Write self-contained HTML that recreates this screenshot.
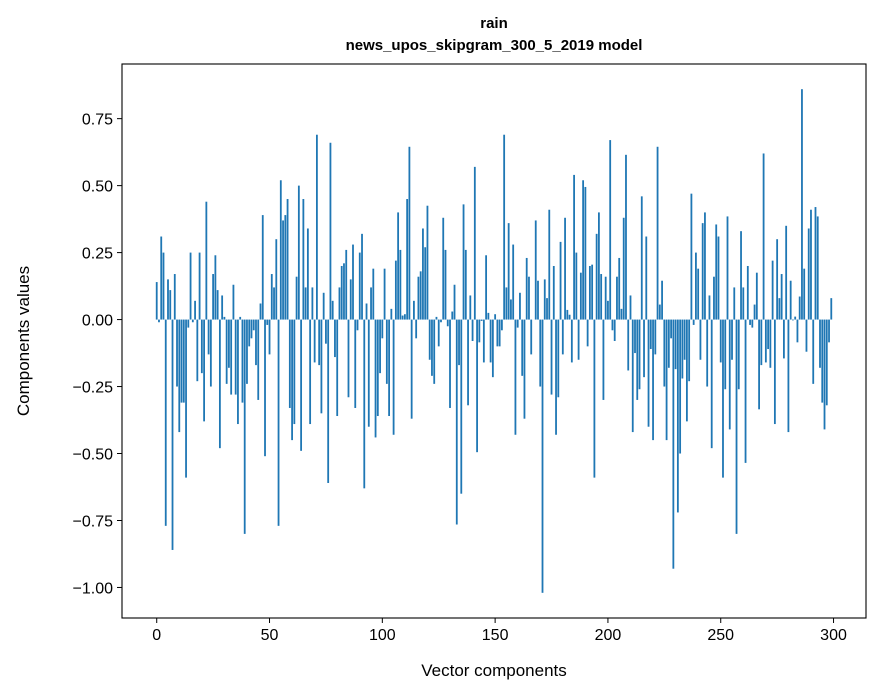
<!DOCTYPE html>
<html><head><meta charset="utf-8"><style>
body{margin:0;background:#fff;}
svg{display:block;font-family:"Liberation Sans",Arial,sans-serif;}
</style></head><body>
<svg id="chart" width="880" height="696">
<text x="494" y="28" text-anchor="middle" font-size="15" font-weight="bold">rain</text>
<text x="494" y="50" text-anchor="middle" font-size="15" font-weight="bold">news_upos_skipgram_300_5_2019 model</text>
<g id="bars"></g>
<g id="axes"></g>
<text x="494" y="676" text-anchor="middle" font-size="17">Vector components</text>
<text transform="translate(29,341) rotate(-90)" text-anchor="middle" font-size="17">Components values</text>
</svg>
<script>
const values = [0.14,-0.01,0.31,0.25,-0.77,0.15,0.11,-0.86,0.17,-0.25,
-0.42,-0.31,-0.31,-0.59,-0.03,0.25,-0.01,0.07,-0.23,0.25,
-0.20,-0.38,0.44,-0.13,-0.25,0.17,0.24,0.11,-0.48,0.09,
0.01,-0.24,-0.18,-0.28,0.13,-0.28,-0.39,0.01,-0.31,-0.80,
-0.24,-0.10,-0.07,-0.04,-0.17,-0.30,0.06,0.39,-0.51,-0.02,
-0.13,0.17,0.12,0.30,-0.77,0.52,0.37,0.39,0.45,-0.33,
-0.45,-0.39,0.16,0.50,-0.49,0.45,0.12,0.34,-0.39,0.12,
-0.16,0.69,-0.17,-0.35,0.10,-0.09,-0.61,0.66,0.07,-0.14,
-0.36,0.12,0.20,0.21,0.26,-0.29,0.15,0.28,-0.33,-0.04,
0.25,0.32,-0.63,0.06,-0.40,0.12,0.19,-0.44,-0.36,-0.20,
-0.07,0.19,-0.24,-0.36,0.04,-0.43,0.22,0.40,0.26,0.015,
0.02,0.45,0.645,-0.37,0.07,-0.07,0.16,0.18,0.34,0.27,
0.425,-0.15,-0.21,-0.24,0.01,-0.10,-0.01,0.38,0.26,-0.025,
-0.33,0.03,0.13,-0.765,-0.17,-0.65,0.43,0.26,-0.32,0.09,
-0.08,0.57,-0.495,-0.085,-0.005,-0.16,0.24,0.025,-0.16,-0.215,
0.02,-0.10,-0.10,-0.04,0.69,0.12,0.36,0.075,0.28,-0.43,
-0.03,0.10,-0.21,-0.37,0.23,0.16,-0.13,0.0,0.37,0.145,
-0.25,-1.02,0.15,0.08,0.41,-0.28,0.20,-0.43,-0.29,0.29,
-0.13,0.38,0.036,0.018,-0.16,0.54,0.25,-0.15,0.175,0.52,
0.495,-0.10,0.20,0.205,-0.59,0.32,0.40,0.17,-0.30,0.16,
0.07,0.67,-0.04,-0.08,0.16,0.23,0.04,0.38,0.615,-0.19,
0.09,-0.42,-0.125,-0.30,-0.26,0.46,-0.215,0.31,-0.40,-0.11,
-0.45,-0.13,0.645,0.056,0.145,-0.25,-0.45,-0.18,-0.07,-0.93,
-0.185,-0.72,-0.50,-0.22,-0.15,-0.38,-0.23,0.47,-0.02,0.25,
0.19,-0.15,0.36,0.40,-0.25,0.09,-0.48,0.16,0.355,0.31,
-0.16,-0.59,-0.26,0.385,-0.41,-0.15,0.12,-0.80,-0.26,0.33,
0.12,-0.535,0.20,-0.02,-0.03,0.056,0.175,-0.335,-0.17,0.62,
-0.16,-0.11,-0.18,0.22,-0.39,0.30,0.08,0.17,-0.145,0.35,
-0.42,0.145,-0.003,0.011,-0.085,0.086,0.86,0.19,-0.12,0.34,
0.41,-0.24,0.42,0.385,-0.18,-0.31,-0.41,-0.32,-0.085,0.08];
const xTicks = [0,50,100,150,200,250,300];
const yTicks = [0.75,0.50,0.25,0.00,-0.25,-0.50,-0.75,-1.00];
const yTickLabels = ["0.75","0.50","0.25","0.00","\u22120.25","\u22120.50","\u22120.75","\u22121.00"];

const L=122,R=866,T=64,B=618;
const n=values.length;
const xmin0=-0.4,xmax0=n-1+0.4, xpad=(xmax0-xmin0)*0.05;
const xMin=xmin0-xpad,xMax=xmax0+xpad;
let dmin=Math.min(0,...values),dmax=Math.max(0,...values),ypad=(dmax-dmin)*0.05;
const yMin=dmin-ypad,yMax=dmax+ypad;
const xs=v=>L+(v-xMin)/(xMax-xMin)*(R-L);
const ys=v=>T+(yMax-v)/(yMax-yMin)*(B-T);
const NS="http://www.w3.org/2000/svg";
const bars=document.getElementById('bars');
values.forEach((v,i)=>{
  const r=document.createElementNS(NS,'rect');
  const x0=xs(i-0.4),x1=xs(i+0.4);
  const y0=ys(Math.max(v,0)),y1=ys(Math.min(v,0));
  r.setAttribute('x',x0);r.setAttribute('width',x1-x0);
  r.setAttribute('y',y0);r.setAttribute('height',Math.max(y1-y0,0.01));
  r.setAttribute('fill','#1f77b4');
  
  
  bars.appendChild(r);
});
const ax=document.getElementById('axes');
const frame=document.createElementNS(NS,'rect');
frame.setAttribute('x',L);frame.setAttribute('y',T);frame.setAttribute('width',R-L);frame.setAttribute('height',B-T);
frame.setAttribute('fill','none');frame.setAttribute('stroke','#000');frame.setAttribute('stroke-width','1.1');


ax.appendChild(frame);
xTicks.forEach(t=>{
  const x=xs(t);
  const l=document.createElementNS(NS,'line');
  l.setAttribute('x1',x);l.setAttribute('x2',x);l.setAttribute('y1',B);l.setAttribute('y2',B+5);l.setAttribute('stroke','#000');
  
  
  ax.appendChild(l);
  const tx=document.createElementNS(NS,'text');
  tx.setAttribute('x',x);tx.setAttribute('y',B+22);tx.setAttribute('text-anchor','middle');tx.setAttribute('font-size','16');
  tx.textContent=t;
  
  
  ax.appendChild(tx);
});
yTicks.forEach((t,k)=>{
  const y=ys(t);
  const l=document.createElementNS(NS,'line');
  l.setAttribute('x1',L-5);l.setAttribute('x2',L);l.setAttribute('y1',y);l.setAttribute('y2',y);l.setAttribute('stroke','#000');
  
  
  ax.appendChild(l);
  const tx=document.createElementNS(NS,'text');
  tx.setAttribute('x',L-9);tx.setAttribute('y',y+6);tx.setAttribute('text-anchor','end');tx.setAttribute('font-size','16');
  tx.textContent=yTickLabels[k];
  
  
  ax.appendChild(tx);
});
</script>
</body></html>
